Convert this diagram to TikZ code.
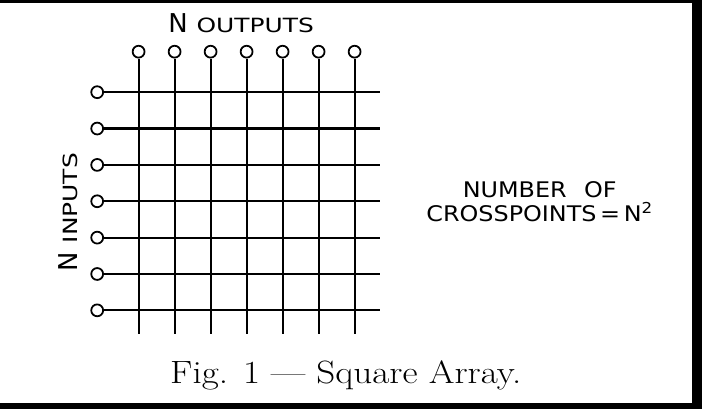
\documentclass[tikz,border=0pt]{standalone}
\usepackage{fontspec}
\setsansfont{DejaVu Sans}
\newfontfamily\letterfont[FakeStretch=1.27]{DejaVu Sans}
\newfontfamily\legendfont[FakeStretch=1.11]{DejaVu Sans}
\newfontfamily\captionfont[Ligatures=TeX, FakeStretch=1.15]{Latin Modern Roman}

\tikzset{
  terminal/.style={circle, draw, line width=1.4pt, fill=white, inner sep=0pt, minimum size=0.33cm},
  wire/.style={line width=1.7pt},
  lettering/.style={font=\letterfont\fontsize{15.5}{19}\selectfont, inner sep=0pt},
  legend/.style={font=\legendfont\fontsize{17}{19}\selectfont, inner sep=0pt}
}
\newcommand{\bigN}{{\sffamily\fontsize{20.5}{24}\selectfont N}}

\begin{document}
\begin{tikzpicture}
    % frame of the scan
    \useasboundingbox (0,0) rectangle (19.5,11.361);
    \fill[black] (0,11.28) rectangle (19.5,11.361);
    \fill[black] (19.22,0) rectangle (19.5,11.361);
    \fill[black] (0,0) rectangle (19.5,0.17);

    % output terminals and vertical wires
    \foreach \i in {1,...,7} {
        \node[terminal] (out\i) at ({3.85+(\i-1)}, 9.925) {};
        \coordinate (bot\i) at ({3.85+(\i-1)}, 2.08);
        \draw[wire] (out\i.south) -- (bot\i);
    }

    % input terminals and horizontal wires
    \foreach \j in {1,...,7} {
        \node[terminal] (in\j) at (2.70, {8.80-1.01*(\j-1)}) {};
        \coordinate (end\j) at (10.56, {8.80-1.01*(\j-1)});
        \draw[wire] (in\j.east) -- (end\j);
    }

    % labels
    \node[lettering, anchor=base west] (outputs) at (4.67, 10.46)
        {\bigN\hspace{0.45em}OUTPUTS};
    \node[lettering, anchor=base west, rotate=90] (inputs) at (2.16, 3.81)
        {\bigN\hspace{0.45em}INPUTS};
    \node[legend, align=center] (count) at (14.99, 5.77)
        {NUMBER\hspace{0.45em} OF\\ CROSSPOINTS\,=\,N\textsuperscript{2}};

    % caption
    \node[anchor=base west, inner sep=0pt, font=\captionfont\fontsize{25.5}{30}\selectfont] (caption) at (4.72, 0.72)
        {Fig. 1 --- Square Array.};
\end{tikzpicture}
\end{document}
